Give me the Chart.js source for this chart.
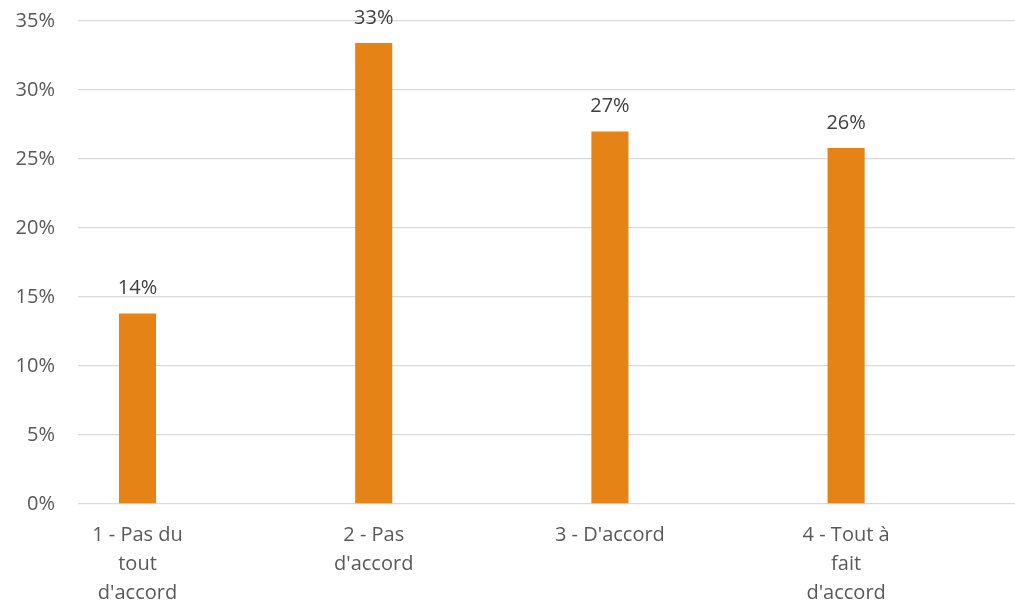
<!DOCTYPE html>
<html>
<head>
<meta charset="utf-8">
<script src="https://cdn.jsdelivr.net/npm/chart.js@4"></script>
<style>
  html, body { margin: 0; padding: 0; background: #fff; }
  canvas { display: block; }
</style>
</head>
<body>
<canvas id="chart" width="1015" height="606"></canvas>
<script>
// categories and values (percent)
const categories = [
    ["1 - Pas du", "tout", "d'accord"],
    ["2 - Pas", "d'accord"],
    ["3 - D'accord"],
    ["4 - Tout à", "fait", "d'accord"],
];
const values = [13.8, 33.4, 27.0, 25.8];
const yTicks = [0, 5, 10, 15, 20, 25, 30, 35];

const barColor = '#E68316';

// draws "xx%" above each bar
const valueLabels = {
    id: 'valueLabels',
    afterDatasetsDraw(chart) {
        const ctx = chart.ctx;
        const meta = chart.getDatasetMeta(0);
        ctx.save();
        ctx.font = '20px "Open Sans"';
        ctx.fillStyle = '#404040';
        ctx.textAlign = 'center';
        ctx.textBaseline = 'middle';
        meta.data.forEach((bar, i) => {
            ctx.fillText(Math.round(values[i]) + '%', bar.x, bar.y - 25);
        });
        ctx.restore();
    }
};

new Chart(document.getElementById('chart'), {
    type: 'bar',
    data: {
        datasets: [{
            data: values.map((v, i) => ({ x: i, y: v })),
            backgroundColor: barColor,
            borderWidth: 0,
            barPercentage: 0.157,
            categoryPercentage: 1,
        }],
    },
    plugins: [valueLabels],
    options: {
        responsive: false,
        animation: false,
        layout: { padding: { top: 21, right: 0, left: 0, bottom: 0 } },
        plugins: {
            legend: { display: false },
            tooltip: { enabled: false },
        },
        scales: {
            x: {
                type: 'linear',
                position: 'bottom',
                offset: false,
                min: -0.252,
                max: 3.715,
                afterBuildTicks: scale => {
                    scale.ticks = categories.map((_, i) => ({ value: i }));
                },
                afterFit: scale => {
                    scale.height = 102;
                    scale.paddingLeft = 0;
                    scale.paddingRight = 0;
                },
                grid: { display: false, drawTicks: false },
                border: { display: false },
                ticks: {
                    autoSkip: false,
                    maxRotation: 0,
                    padding: 17,
                    color: '#595959',
                    font: { family: '"Open Sans"', size: 20, lineHeight: 1.45 },
                    callback: v => categories[v],
                },
            },
            y: {
                min: 0,
                max: 35,
                afterBuildTicks: scale => {
                    scale.ticks = yTicks.map(v => ({ value: v }));
                },
                afterFit: scale => {
                    scale.width = 78;
                    scale.paddingTop = 0;
                    scale.paddingBottom = 0;
                },
                grid: { color: '#d9d9d9', lineWidth: 1.3, drawTicks: false },
                border: { display: false },
                ticks: {
                    padding: 23,
                    color: '#595959',
                    font: { family: '"Open Sans"', size: 20 },
                    callback: v => v + '%',
                },
            },
        },
    },
});
</script>
</body>
</html>
